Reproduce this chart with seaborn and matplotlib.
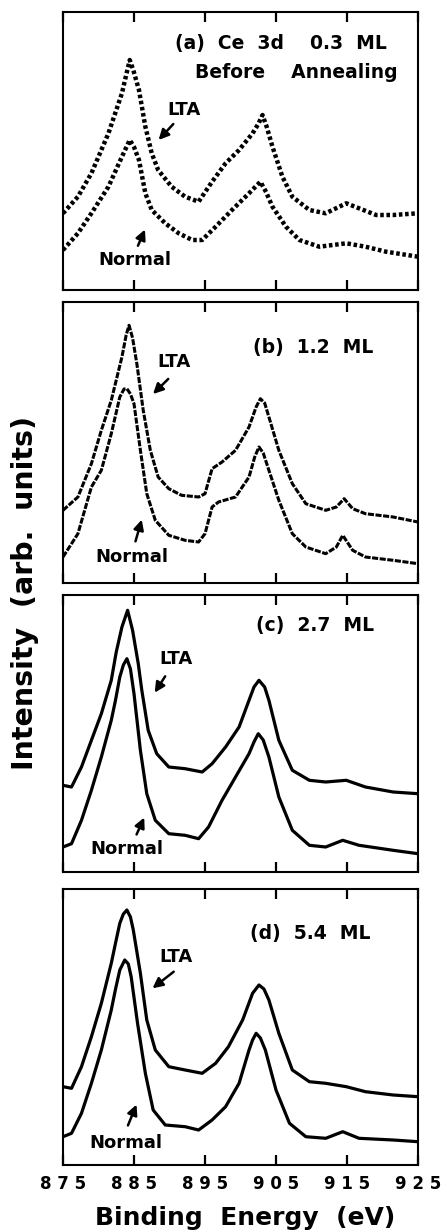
import matplotlib
matplotlib.use("Agg")
import matplotlib.pyplot as plt
import seaborn as sns
import pandas as pd

sns.set_theme(style="white")
plt.rcParams['font.family'] = ['DejaVu Sans']
plt.rcParams['font.weight'] = 'bold'
plt.rcParams['text.color'] = 'black'
plt.rcParams['axes.labelcolor'] = 'black'
plt.rcParams['xtick.color'] = 'black'
plt.rcParams['ytick.color'] = 'black'

# ---------------- data ----------------
# Panel (a) 0.3 ML before annealing
a_lta_E = [875, 877.1, 879.0, 881.4, 883.3, 883.9, 884.4, 884.9, 885.7, 886.6, 887.5, 888.4, 890.3, 892.2,
           894.1, 896.0, 897.9, 899.8, 901.7, 902.5, 903.1, 903.7, 904.5, 905.9, 907.3, 909.7, 912.0, 914.9,
           916.7, 919.1, 921.5, 925]
a_lta_I = [76.7, 93.3, 116.7, 156.7, 196.7, 215, 230, 220, 200, 163.3, 136.7, 120, 103.3, 93.3,
           88.3, 108.3, 126.7, 140, 156.7, 166, 175, 163, 143.3, 113.3, 93.3, 80, 76.7, 86.7,
           81.7, 75, 75, 76.7]
a_nor_E = [875, 877.1, 879.0, 881.4, 883.3, 884.4, 885.0, 885.7, 886.6, 887.5, 889.4, 891.3, 893.2, 894.6,
           896.5, 898.8, 901.2, 902.8, 903.6, 904.5, 906.4, 908.3, 911.1, 914.9, 917.6, 920.5, 925]
a_nor_I = [40, 56.7, 76.7, 103.3, 133.3, 150, 143, 130, 96.7, 80, 66.7, 56.7, 50, 50,
           63.3, 80, 96.7, 108.3, 98, 83.3, 63.3, 50, 43.3, 46.7, 43.3, 38.3, 33.3]

# Panel (b) 1.2 ML
b_lta_E = [875, 877.1, 879.0, 880.4, 881.8, 883.3, 883.9, 884.3, 884.8, 885.4, 886.3, 887.3, 888.4, 889.9,
           891.7, 894.1, 895.0, 896.0, 897.4, 899.3, 901.2, 902.2, 902.8, 903.4, 904.0, 905.4, 907.3, 909.2,
           912.0, 913.5, 914.6, 915.8, 917.6, 921.5, 925]
b_lta_I = [72.7, 86, 119.3, 152.7, 182.7, 226, 248, 257.7, 245, 219.3, 172.7, 132.7, 106, 94.3,
           87.7, 86, 89.3, 114.3, 121, 132.7, 156, 176, 184.3, 180, 166, 132.7, 99.3, 79.3,
           72.7, 76, 84.3, 74.3, 69.3, 66, 61]
b_nor_E = [875, 877.1, 879.0, 880.4, 881.8, 883.0, 883.6, 884.0, 884.5, 885.0, 885.9, 886.8, 888.0, 889.9,
           892.2, 894.1, 895.0, 896.0, 896.9, 899.3, 901.2, 902.0, 902.6, 903.2, 904.0, 905.4, 907.3, 909.2,
           912.0, 913.5, 914.4, 915.8, 917.6, 921.5, 925]
b_nor_I = [26, 49.3, 96, 112.7, 149.3, 186, 194, 194.3, 189, 179.3, 132.7, 89.3, 62.7, 47.7,
           42.7, 41, 49.3, 76, 81, 86, 106, 126, 136, 130, 112.7, 82.7, 49.3, 36,
           29.3, 36, 47.7, 32.7, 26, 22.7, 19.3]

# Panel (c) 2.7 ML
c_lta_E = [875, 876.2, 877.6, 879.0, 880.4, 881.8, 882.5, 883.3, 884.1, 884.8, 885.6, 886.1, 887.0, 888.2,
           889.9, 892.2, 894.6, 896.0, 897.9, 899.8, 901.2, 901.9, 902.6, 903.4, 904.0, 905.4, 907.3, 909.7,
           912.0, 914.9, 917.6, 921.5, 925]
c_lta_I = [86.7, 85, 105, 131.7, 158.3, 191.7, 220, 245, 261.7, 241.7, 208.3, 181.7, 141.7, 118.3,
           105, 103.3, 100, 108.3, 125, 145, 171.7, 185, 191.7, 185, 171.7, 131.7, 101.7, 91.7,
           90, 91.7, 85, 80, 78.3]
c_nor_E = [875, 876.2, 877.6, 879.0, 880.4, 881.8, 882.4, 883.0, 883.5, 884.0, 884.5, 885.0, 885.9, 886.8,
           888.0, 889.9, 892.2, 894.1, 895.5, 897.4, 899.3, 901.2, 901.9, 902.5, 903.2, 904.0, 905.4, 907.3,
           909.7, 912.0, 914.4, 916.7, 921.5, 925]
c_nor_I = [25, 28.3, 51.7, 81.7, 115, 151.7, 172, 195, 207, 213.3, 203, 178.3, 121.7, 78.3,
           51.7, 38.3, 36.7, 33.3, 45, 71.7, 95, 118.3, 130, 138.3, 132, 115, 75, 41.7,
           26.7, 25, 31.7, 26.7, 21.7, 18.3]

# Panel (d) 5.4 ML
d_lta_E = [875, 876.2, 877.6, 879.0, 880.4, 881.8, 882.4, 883.0, 883.5, 884.0, 884.5, 884.9, 885.9, 886.8,
           888.0, 889.9, 892.2, 894.6, 896.5, 898.3, 900.3, 901.7, 902.6, 903.3, 904.0, 905.4, 907.3, 909.7,
           912.0, 914.9, 917.6, 921.5, 925]
d_lta_I = [78.3, 76.7, 98.3, 128.3, 161.7, 201.7, 222, 241.7, 251, 255, 248, 235, 191.7, 145,
           115, 98.3, 95, 91.7, 101.7, 118.3, 145, 171.7, 180, 176, 165, 131.7, 95, 83.3,
           81.7, 78.3, 73.3, 70, 68.3]
d_nor_E = [875, 876.2, 877.6, 879.0, 880.4, 881.8, 882.4, 883.0, 883.7, 884.2, 884.6, 885.5, 886.6, 887.7,
           889.4, 892.2, 894.1, 896.0, 897.9, 899.8, 901.2, 901.7, 902.2, 902.8, 903.5, 905.0, 906.9, 909.2,
           912.0, 914.4, 916.7, 921.5, 925]
d_nor_I = [28.3, 31.7, 51.7, 81.7, 115, 155, 176, 195, 205, 201, 188.3, 141.7, 91.7, 55,
           40, 38.3, 35, 45, 58.3, 81.7, 115, 125, 131.7, 127, 115, 75, 41.7, 28.3,
           26.7, 33.3, 26.7, 25, 23.3]

tick_values = [875, 885, 895, 905, 915, 925]
tick_labels = ["8 7 5", "8 8 5", "8 9 5", "9 0 5", "9 1 5", "9 2 5"]
panel_titles = [["(a)  Ce  3d    0.3  ML", "Before    Annealing"], ["(b)  1.2  ML"], ["(c)  2.7  ML"], ["(d)  5.4  ML"]]

panels = [
    (a_lta_E, a_lta_I, a_nor_E, a_nor_I),
    (b_lta_E, b_lta_I, b_nor_E, b_nor_I),
    (c_lta_E, c_lta_I, c_nor_E, c_nor_I),
    (d_lta_E, d_lta_I, d_nor_E, d_nor_I),
]

# ---------------- layout / styles ----------------
W, H = 443, 1231
fig = plt.figure(figsize=(W / 100, H / 100), dpi=100)
left_px, right_px = 63, 418
boxes_px = [(12, 290), (302, 583), (595, 872), (889, 1165)]
ylims = [278, 281, 277, 276]
line_styles = [
    dict(lw=3.2, ls=(0, (0.8, 0.6))),
    dict(lw=2.2, ls=(0, (2.0, 0.5))),
    dict(lw=2.3, ls='-'),
    dict(lw=2.3, ls='-'),
]
# title positions (E, I) and annotation positions
title_pos = [[(905.7, 247), (907.9, 218)], [(910.2, 236)], [(910.5, 247)], [(909.8, 232)]]
lta_text = [(892.0, 180), (890.6, 221), (890.9, 213), (890.9, 208)]
lta_arrow = [((890.8, 168), (888.2, 148)), ((890.1, 206), (887.4, 187)),
             ((889.6, 198), (887.7, 177)), ((890.9, 195), (887.3, 175))]
nor_text = [(885.1, 30), (884.7, 26), (884.0, 23), (883.8, 22)]
nor_arrow = [((885.4, 41.7), (886.7, 63)), ((885.1, 39), (886.2, 66)),
             ((885.2, 35), (886.6, 57)), ((884.0, 37), (885.5, 63))]

for i, (lE, lI, nE, nI) in enumerate(panels):
    top, bot = boxes_px[i]
    ax = fig.add_axes([left_px / W, 1 - bot / H, (right_px - left_px) / W, (bot - top) / H])
    df = pd.concat([
        pd.DataFrame({"E": lE, "I": lI, "s": "LTA"}),
        pd.DataFrame({"E": nE, "I": nI, "s": "Normal"}),
    ])
    for s in ["LTA", "Normal"]:
        sub = df[df["s"] == s]
        sns.lineplot(data=sub, x="E", y="I", ax=ax, color="black", sort=False,
                     linewidth=line_styles[i]["lw"], linestyle=line_styles[i]["ls"], legend=False)
    ax.set_xlim(875, 925)
    ax.set_ylim(0, ylims[i])
    ax.set_xlabel("")
    ax.set_ylabel("")
    ax.set_yticks([])
    ax.set_xticks(tick_values)
    ax.tick_params(axis='x', direction='in', top=True, bottom=True, length=7, width=1.6,
                   color='black', pad=7, labelsize=12, labelcolor='black')
    if i == 3:
        ax.set_xticklabels(tick_labels, fontweight='bold', fontsize=12, color='black')
    else:
        ax.set_xticklabels([])
    for sp in ax.spines.values():
        sp.set_visible(True)
        sp.set_color('black')
        sp.set_linewidth(1.5)
    for t, (tx, ty) in zip(panel_titles[i], title_pos[i]):
        ax.text(tx, ty, t, ha='center', va='center', fontsize=13.5, fontweight='bold', color='black')
    ax.text(*lta_text[i], "LTA", ha='center', va='center', fontsize=13, fontweight='bold', color='black')
    ax.annotate("", xy=lta_arrow[i][1], xytext=lta_arrow[i][0],
                arrowprops=dict(arrowstyle='-|>,head_length=0.5,head_width=0.25', color='black', lw=1.8))
    ax.text(*nor_text[i], "Normal", ha='center', va='center', fontsize=13, fontweight='bold', color='black')
    ax.annotate("", xy=nor_arrow[i][1], xytext=nor_arrow[i][0],
                arrowprops=dict(arrowstyle='-|>,head_length=0.5,head_width=0.25', color='black', lw=1.8))

fig.text(245 / W, 1 - 1225 / H, "Binding  Energy  (eV)", ha='center', va='baseline',
         fontsize=18, fontweight='bold', color='black')
fig.text(25 / W, 1 - 593 / H, "Intensity  (arb.  units)", ha='center', va='center', rotation=90,
         fontsize=20.5, fontweight='bold', color='black')

fig.savefig("out.png", dpi=100, facecolor='white')
